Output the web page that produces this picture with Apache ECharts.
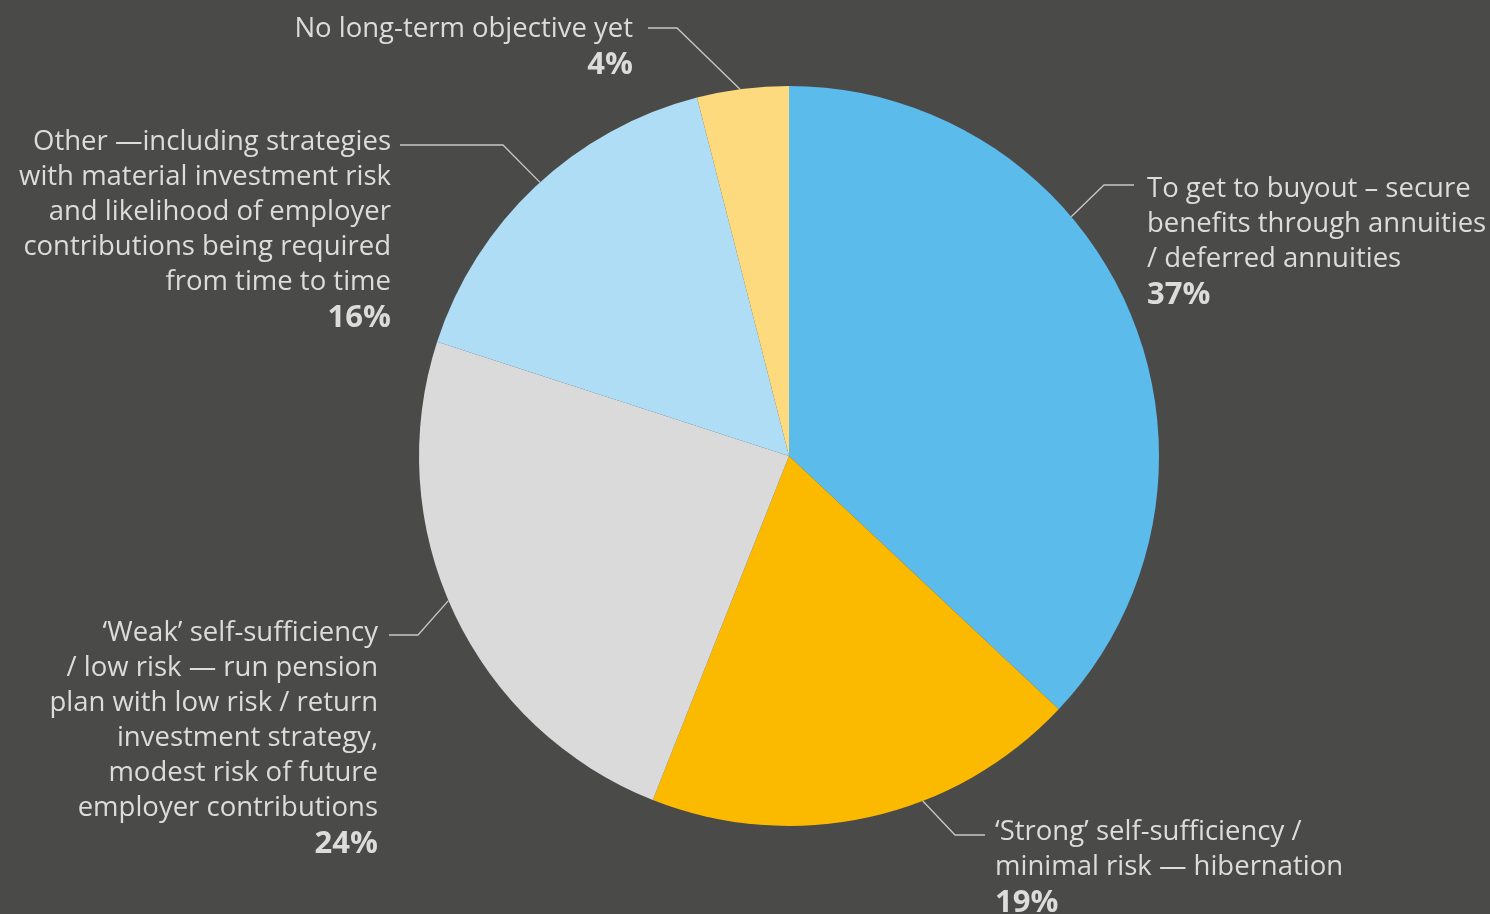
<!DOCTYPE html>
<html>
<head>
<meta charset="utf-8">
<script src="https://cdn.jsdelivr.net/npm/echarts@6/dist/echarts.min.js"></script>
<style>
  html, body { margin: 0; padding: 0; background: #4a4a49; }
  #chart { width: 1490px; height: 914px; }
</style>
</head>
<body>
<div id="chart"></div>
<script>
// Long-term objectives of pension plans (share of respondents)
const categories = [
  'To get to buyout – secure\nbenefits through annuities\n/ deferred annuities',
  '‘Strong’ self-sufficiency /\nminimal risk — hibernation',
  '‘Weak’ self-sufficiency\n/ low risk — run pension\nplan with low risk / return\ninvestment strategy,\nmodest risk of future\nemployer contributions',
  'Other —including strategies\nwith material investment risk\nand likelihood of employer\ncontributions being required\nfrom time to time',
  'No long-term objective yet'
];
const shares = [37, 19, 24, 16, 4];
const sliceColors = ['#5bbbeb', '#fbba00', '#dadada', '#aeddf5', '#fdda7d'];

// Pie geometry (pixels)
const CX = 789, CY = 456, R = 370;

// Where each label sits and how its leader line runs:
// x/y = text anchor, lineY = height of the horizontal run,
// gap = space between text and line, run = horizontal length,
// deg = clockwise angle from 12 o'clock where the line meets the pie.
const placements = [
  { x: 1147, y: 172, align: 'left',  lineY: 185, gap: 13, run: 30,  deg: 49.7 },
  { x: 995,  y: 815, align: 'left',  lineY: 835, gap: 10, run: 30,  deg: 158.8 },
  { x: 378,  y: 616, align: 'right', lineY: 635, gap: 11, run: 29,  deg: 247 },
  { x: 391,  y: 125, align: 'right', lineY: 145, gap: 9,  run: 103, deg: 317.7 },
  { x: 633,  y: 12,  align: 'right', lineY: 28,  gap: 15, run: 29,  deg: 352.4 }
];

const pieData = categories.map((name, i) => ({
  name: name,
  value: shares[i],
  itemStyle: { color: sliceColors[i] },
  label: { align: placements[i].align }
}));

const chart = echarts.init(document.getElementById('chart'), null, { renderer: 'canvas' });

chart.setOption({
  backgroundColor: '#4a4a49',
  animation: false,
  series: [{
    type: 'pie',
    center: [CX, CY],
    radius: R,
    startAngle: 90,
    clockwise: true,
    avoidLabelOverlap: false,
    data: pieData,
    itemStyle: { borderWidth: 0 },
    label: {
      show: true,
      position: 'outside',
      color: '#dcdcdc',
      fontFamily: '"Open Sans", sans-serif',
      fontSize: 27.5,
      lineHeight: 35,
      formatter: (p) => p.name + '\n{p|' + p.value + '%}',
      rich: {
        p: {
          color: '#dcdcdc',
          fontFamily: '"Open Sans", sans-serif',
          fontWeight: 'bold',
          fontSize: 31,
          lineHeight: 36
        }
      }
    },
    labelLine: {
      show: true,
      lineStyle: { color: '#c8c8c8', width: 1.3 }
    },
    labelLayout: (params) => {
      const p = placements[params.dataIndex];
      const dir = p.align === 'left' ? -1 : 1;
      const endX = p.x + dir * p.gap;
      const elbowX = endX + dir * p.run;
      const a = p.deg * Math.PI / 180;
      const edge = [CX + R * Math.sin(a), CY - R * Math.cos(a)];
      return {
        x: p.x,
        y: p.y,
        align: p.align,
        verticalAlign: 'top',
        labelLinePoints: [edge, [elbowX, p.lineY], [endX, p.lineY]]
      };
    }
  }]
});
</script>
</body>
</html>
